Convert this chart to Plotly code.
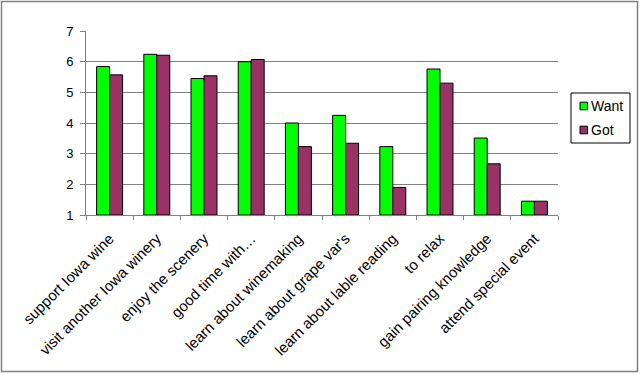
import plotly.graph_objects as go

categories = ["support Iowa wine", "visit another Iowa winery", "enjoy the scenery",
              "good time with…", "learn about winemaking", "learn about grape var's",
              "learn about lable reading", "to relax", "gain pairing knowledge",
              "attend special event"]
want = [5.84, 6.24, 5.45, 6.0, 4.0, 4.25, 3.23, 5.76, 3.51, 1.45]
got = [5.57, 6.21, 5.54, 6.07, 3.23, 3.34, 1.9, 5.30, 2.67, 1.45]
y_ticks = [1, 2, 3, 4, 5, 6, 7]
series_names = ["Want", "Got"]
series_colors = ["#00FF00", "#993366"]

FONT = "Liberation Sans, Arial, sans-serif"

fig = go.Figure()
for name, vals, col in zip(series_names, [want, got], series_colors):
    fig.add_trace(go.Bar(name=name, x=categories, y=[v - 1 for v in vals], base=1,
                         showlegend=False,
                         marker=dict(color=col, line=dict(color="black", width=1))))

L, R, T, B = 86, 82, 31, 160
fig.update_layout(
    width=640, height=375,
    margin=dict(l=L, r=R, t=T, b=B, pad=0, autoexpand=False),
    paper_bgcolor="white", plot_bgcolor="white",
    barmode="group", bargap=0.45, bargroupgap=0,
    font=dict(family=FONT, size=13, color="black"),
    xaxis=dict(type="category", tickangle=-45, tickson="boundaries",
               ticks="outside", ticklen=4, tickcolor="#808080",
               showline=True, linecolor="#808080", linewidth=1,
               showgrid=False, tickfont=dict(size=15), ticklabelstandoff=8),
    yaxis=dict(range=[1, 7], tickvals=y_ticks, ticks="outside", ticklen=5,
               tickcolor="#808080", showline=True, linecolor="#808080",
               showgrid=True, gridcolor="#808080", gridwidth=1,
               zeroline=False, tickfont=dict(size=13), ticklabelstandoff=4),
)

pw, ph = 640 - L - R, 375 - T - B
def px_x(p):
    return (p - L) / pw
def px_y(p):
    return (375 - B - p) / ph

# outer chart border
fig.add_shape(type="rect", xref="paper", yref="paper",
              x0=px_x(1.5), x1=px_x(637.5), y0=px_y(371.5), y1=px_y(1.5),
              line=dict(color="#808080", width=1.5), layer="below")

# legend box
fig.add_shape(type="rect", xref="paper", yref="paper",
              x0=px_x(571), x1=px_x(630), y0=px_y(143), y1=px_y(93),
              line=dict(color="black", width=1), fillcolor="white")
for i, (name, col) in enumerate(zip(series_names, series_colors)):
    cy = 106 + i * 24
    fig.add_shape(type="rect", xref="paper", yref="paper",
                  x0=px_x(580), x1=px_x(587.5), y0=px_y(cy + 3.8), y1=px_y(cy - 3.8),
                  line=dict(color="black", width=1), fillcolor=col)
    fig.add_annotation(xref="paper", yref="paper", x=px_x(589), y=px_y(cy),
                       text=name, showarrow=False, xanchor="left", yanchor="middle",
                       font=dict(size=14, family=FONT, color="black"))

fig.write_html("out.html", config={"displayModeBar": False},
               post_script="document.body.style.margin='0';")
